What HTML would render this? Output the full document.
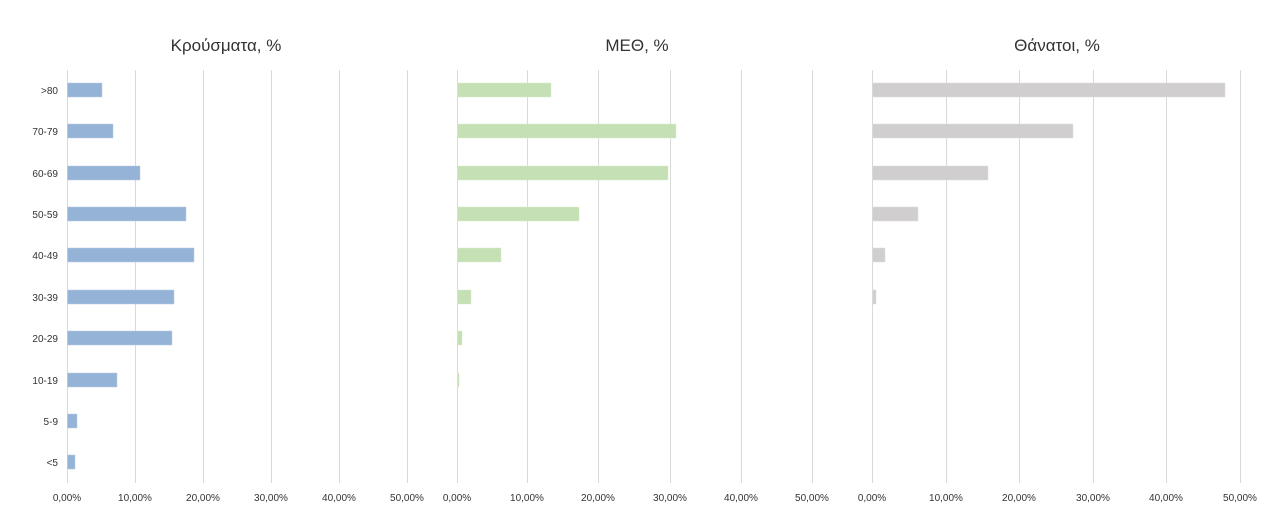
<!DOCTYPE html>
<html><head><meta charset="utf-8"><style>
html,body{margin:0;padding:0;background:#fff;width:1272px;height:514px;overflow:hidden}
text{font-family:"Liberation Sans",sans-serif;fill:#333}
</style></head><body>
<svg width="1272" height="514" xmlns="http://www.w3.org/2000/svg">
<g stroke="#d9d9d9" stroke-width="1">
<line x1="67.5" y1="70" x2="67.5" y2="483"/><line x1="135.5" y1="70" x2="135.5" y2="483"/><line x1="203.5" y1="70" x2="203.5" y2="483"/><line x1="271.5" y1="70" x2="271.5" y2="483"/><line x1="339.5" y1="70" x2="339.5" y2="483"/><line x1="407.5" y1="70" x2="407.5" y2="483"/>
<line x1="457.5" y1="70" x2="457.5" y2="483"/><line x1="527.5" y1="70" x2="527.5" y2="483"/><line x1="598.5" y1="70" x2="598.5" y2="483"/><line x1="670.5" y1="70" x2="670.5" y2="483"/><line x1="741.5" y1="70" x2="741.5" y2="483"/><line x1="812.5" y1="70" x2="812.5" y2="483"/>
<line x1="872.5" y1="70" x2="872.5" y2="483"/><line x1="946.5" y1="70" x2="946.5" y2="483"/><line x1="1019.5" y1="70" x2="1019.5" y2="483"/><line x1="1093.5" y1="70" x2="1093.5" y2="483"/><line x1="1166.5" y1="70" x2="1166.5" y2="483"/><line x1="1240.5" y1="70" x2="1240.5" y2="483"/>
</g>
<g font-size="17" text-anchor="middle">
<text x="226" y="51">Κρούσματα, %</text><text x="637" y="51">ΜΕΘ, %</text><text x="1057" y="51">Θάνατοι, %</text>
</g>
<g font-size="10" text-anchor="end">
<text x="58" y="94">&gt;80</text><text x="58" y="135">70-79</text><text x="58" y="177">60-69</text><text x="58" y="218">50-59</text><text x="58" y="259">40-49</text><text x="58" y="301">30-39</text><text x="58" y="342">20-29</text><text x="58" y="384">10-19</text><text x="58" y="425">5-9</text><text x="58" y="466">&lt;5</text>
</g>
<g fill="#95b3d7" stroke="#b8cce4" stroke-width="0.5">
<rect x="67.5" y="83" width="34.5" height="14"/><rect x="67.5" y="124" width="45.5" height="14"/><rect x="67.5" y="166" width="72.5" height="14"/><rect x="67.5" y="207" width="118.5" height="14"/><rect x="67.5" y="248" width="126.5" height="14"/><rect x="67.5" y="290" width="106.5" height="14"/><rect x="67.5" y="331" width="104.5" height="14"/><rect x="67.5" y="373" width="49.5" height="14"/><rect x="67.5" y="414" width="9.5" height="14"/><rect x="67.5" y="455" width="7.5" height="14"/>
</g>
<g fill="#c5e0b4" stroke="#d8ebcb" stroke-width="0.5">
<rect x="457.5" y="83" width="93.5" height="14"/><rect x="457.5" y="124" width="218.5" height="14"/><rect x="457.5" y="166" width="210.5" height="14"/><rect x="457.5" y="207" width="121.5" height="14"/><rect x="457.5" y="248" width="43.5" height="14"/><rect x="457.5" y="290" width="13.5" height="14"/><rect x="457.5" y="331" width="4.5" height="14"/><rect x="457.5" y="373" width="1.5" height="14"/>
</g>
<g fill="#d0cece" stroke="#e0dede" stroke-width="0.5">
<rect x="872.5" y="83" width="352.5" height="14"/><rect x="872.5" y="124" width="200.5" height="14"/><rect x="872.5" y="166" width="115.5" height="14"/><rect x="872.5" y="207" width="45.5" height="14"/><rect x="872.5" y="248" width="12.5" height="14"/><rect x="872.5" y="290" width="3.5" height="14"/>
</g>
<g font-size="10" text-anchor="middle">
<text x="67" y="501">0,00%</text><text x="135" y="501">10,00%</text><text x="203" y="501">20,00%</text><text x="271" y="501">30,00%</text><text x="339" y="501">40,00%</text><text x="407" y="501">50,00%</text>
<text x="457" y="501">0,00%</text><text x="527" y="501">10,00%</text><text x="598" y="501">20,00%</text><text x="670" y="501">30,00%</text><text x="741" y="501">40,00%</text><text x="812" y="501">50,00%</text>
<text x="872" y="501">0,00%</text><text x="946" y="501">10,00%</text><text x="1019" y="501">20,00%</text><text x="1093" y="501">30,00%</text><text x="1166" y="501">40,00%</text><text x="1240" y="501">50,00%</text>
</g>
</svg>
</body></html>
